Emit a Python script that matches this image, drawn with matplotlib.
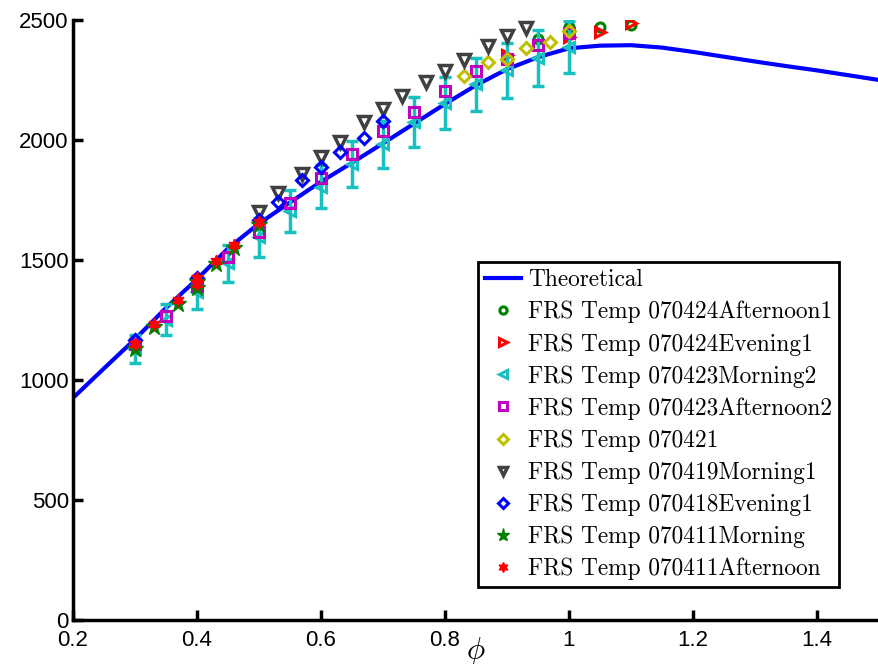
import numpy as np
import matplotlib
matplotlib.use("Agg")
import matplotlib.pyplot as plt

plt.rcParams['font.family'] = ['Liberation Sans', 'DejaVu Sans']
plt.rcParams['mathtext.fontset'] = 'cm'

# theoretical curve
phi_th = [0.20, 0.25, 0.30, 0.35, 0.40, 0.45, 0.50, 0.55, 0.60, 0.65, 0.70, 0.75, 0.80, 0.85,
          0.90, 0.95, 1.00, 1.05, 1.10, 1.15, 1.20, 1.25, 1.30, 1.35, 1.40, 1.45, 1.50]
T_th = [925, 1048, 1170, 1300, 1420, 1548, 1652, 1740, 1826, 1905, 1986, 2068, 2150, 2228,
        2295, 2345, 2382, 2393, 2395, 2385, 2367, 2347, 2327, 2308, 2290, 2270, 2250]

# 070424Afternoon1
phi_a1 = [0.95, 1.00, 1.05, 1.10]
T_a1 = [2420, 2472, 2469, 2479]
# 070424Evening1
phi_e1 = [0.90, 1.00, 1.05, 1.10]
T_e1 = [2354, 2430, 2451, 2486]
# 070423Morning2 (with error bars)
phi_m2 = [0.30, 0.35, 0.40, 0.45, 0.50, 0.55, 0.60, 0.65, 0.70, 0.75, 0.80, 0.85, 0.90, 0.95, 1.00]
T_m2 = [1128, 1252, 1365, 1486, 1595, 1705, 1805, 1900, 1983, 2076, 2155, 2232, 2291, 2343, 2388]
err_m2 = [59, 66, 68, 76, 82, 87, 90, 94, 98, 104, 108, 111, 115, 117, 107]
# 070423Afternoon2
phi_a2 = [0.30, 0.35, 0.40, 0.45, 0.50, 0.55, 0.60, 0.65, 0.70, 0.75, 0.80, 0.85, 0.90, 0.95, 1.00]
T_a2 = [1150, 1268, 1390, 1511, 1615, 1736, 1840, 1942, 2039, 2115, 2206, 2288, 2338, 2396, 2444]
# 070421
phi_21 = [0.83, 0.87, 0.90, 0.93, 0.97, 1.00]
T_21 = [2267, 2323, 2338, 2382, 2410, 2453]
# 070419Morning1
phi_19 = [0.50, 0.53, 0.57, 0.60, 0.63, 0.67, 0.70, 0.73, 0.77, 0.80, 0.83, 0.87, 0.90, 0.93]
T_19 = [1700, 1780, 1860, 1930, 1993, 2074, 2129, 2185, 2241, 2287, 2333, 2391, 2433, 2468]
# 070418Evening1
phi_18 = [0.30, 0.40, 0.50, 0.53, 0.57, 0.60, 0.63, 0.67, 0.70]
T_18 = [1168, 1425, 1665, 1743, 1833, 1887, 1949, 2007, 2080]
# 070411Morning
phi_11m = [0.30, 0.33, 0.37, 0.40, 0.40, 0.43, 0.46, 0.50]
T_11m = [1130, 1220, 1318, 1385, 1410, 1482, 1548, 1645]
# 070411Afternoon
phi_11a = [0.30, 0.33, 0.37, 0.40, 0.40, 0.43, 0.46, 0.50]
T_11a = [1148, 1233, 1332, 1398, 1424, 1495, 1562, 1660]

cyan = '#19c0c0'
fig = plt.figure(figsize=(8.79, 6.64), dpi=100)
ax = fig.add_axes([0.083, 0.0663, 0.917, 0.9036])

h_th, = ax.plot(phi_th, T_th, color='#0000ff', lw=3, label='Theoretical', zorder=2)
h1, = ax.plot(phi_a1, T_a1, 'o', color='#008000', mfc='none', mew=2.2, ms=6.5,
              label='FRS Temp 070424Afternoon1', zorder=3)
h2, = ax.plot(phi_e1, T_e1, '>', color='#ff0000', mfc='none', mew=2.2, ms=7.5,
              label='FRS Temp 070424Evening1', zorder=3)
ax.errorbar(phi_m2, T_m2, yerr=err_m2, fmt='none', ecolor=cyan, elinewidth=2.5,
            capsize=4, capthick=2.5, zorder=3)
h3, = ax.plot(phi_m2, T_m2, '<', color=cyan, mfc='none', mew=2.2, ms=7.5,
              label='FRS Temp 070423Morning2', zorder=3)
h4, = ax.plot(phi_a2, T_a2, 's', color='#bf00bf', mfc='none', mew=2.2, ms=7,
              label='FRS Temp 070423Afternoon2', zorder=3)
h5, = ax.plot(phi_21, T_21, 'D', color='#bfbf00', mfc='none', mew=2.2, ms=6.5,
              label='FRS Temp 070421', zorder=3)
h6, = ax.plot(phi_19, T_19, 'v', color='#404040', mfc='none', mew=2.5, ms=8,
              label='FRS Temp 070419Morning1', zorder=3)
h7, = ax.plot(phi_18, T_18, 'D', color='#0000ff', mfc='none', mew=2.2, ms=6.5,
              label='FRS Temp 070418Evening1', zorder=3)
h8, = ax.plot(phi_11m, T_11m, '*', color='#008000', ms=12,
              label='FRS Temp 070411Morning', zorder=4)
h9, = ax.plot(phi_11a, T_11a, marker=(6, 1, 0), ls='none', color='#ff0000', ms=9,
              label='FRS Temp 070411Afternoon', zorder=5)

ax.set_xlim(0.2, 1.5)
ax.set_ylim(0, 2500)
ax.set_xticks([0.2, 0.4, 0.6, 0.8, 1.0, 1.2, 1.4])
ax.set_xticklabels(['0.2', '0.4', '0.6', '0.8', '1', '1.2', '1.4'])
ax.set_yticks([0, 500, 1000, 1500, 2000, 2500])
ax.spines['top'].set_visible(False)
ax.spines['right'].set_visible(False)
for s in ['left', 'bottom']:
    ax.spines[s].set_linewidth(2.5)
ax.tick_params(direction='in', length=7, width=2.5, labelsize=16)
ax.tick_params(axis='x', pad=7)
ax.tick_params(axis='y', pad=3)
ax.set_xlabel(r'$\phi$', fontsize=22, labelpad=-11)

leg = ax.legend(handles=[h_th, h1, h2, h3, h4, h5, h6, h7, h8, h9],
                loc='lower left', bbox_to_anchor=(0.502, 0.055),
                prop={'family': 'cmr10', 'size': 16.8}, fancybox=False,
                edgecolor='black', framealpha=1, markerscale=0.8,
                handlelength=1.55, handletextpad=0.3, labelspacing=0.41,
                borderpad=0.3, borderaxespad=0)
leg.get_frame().set_linewidth(2)

fig.savefig('out.png', dpi=100)
